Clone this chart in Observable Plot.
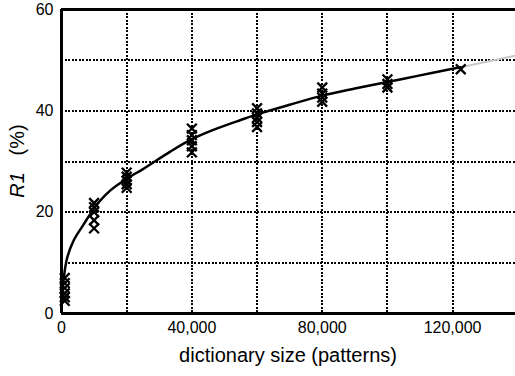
<!DOCTYPE html>
<html>
<head>
<meta charset="utf-8">
<script src="https://cdn.jsdelivr.net/npm/d3@7"></script>
<script src="https://cdn.jsdelivr.net/npm/@observablehq/plot@0.6"></script>
<style>
  html, body { margin: 0; padding: 0; background: #fff; }
  #chart svg { display: block; }
</style>
</head>
<body>
<div id="chart"></div>
<script>
// Measured runs: dictionary size (patterns) and R1 (%)
const sizes0 = [1000, 1000, 1000, 1000, 1000, 1000];
const r1_0 = [2.5, 3.2, 4.0, 5.0, 6.0, 7.0];
const sizes10k = [10000, 10000, 10000, 10000, 10000];
const r1_10k = [21.8, 21.0, 20.0, 18.4, 16.8];
const sizes20k = [20000, 20000, 20000, 20000, 20000];
const r1_20k = [24.8, 25.5, 26.2, 27.0, 27.8];
const sizes40k = [40000, 40000, 40000, 40000, 40000];
const r1_40k = [31.8, 33.0, 34.2, 35.2, 36.5];
const sizes60k = [60000, 60000, 60000, 60000, 60000];
const r1_60k = [36.8, 37.8, 38.6, 39.5, 40.5];
const sizes80k = [80000, 80000, 80000, 80000];
const r1_80k = [41.8, 42.6, 43.4, 44.6];
const sizes100k = [100000, 100000, 100000];
const r1_100k = [44.6, 45.3, 46.2];
const sizes123k = [122500];
const r1_123k = [48.2];

// Fitted curve
const fitX = [200, 700, 1750, 3800, 6400, 9000, 11500, 15000, 20000, 25000, 33500, 40000, 46000, 55000, 60000, 70000, 80000, 90000, 100000, 110000, 120000, 122500];
const fitY = [2.5, 7.0, 11.0, 14.5, 17.2, 19.8, 22.0, 24.3, 26.6, 28.5, 32.0, 34.4, 36.1, 38.2, 39.3, 41.2, 43.0, 44.4, 45.7, 47.0, 48.3, 48.6];
// Extrapolated part (grey)
const extX = [122500, 139300];
const extY = [48.6, 50.9];

const xTicks = [0, 40000, 80000, 120000];
const yTicks = [0, 20, 40, 60];
const xGrid = [20000, 40000, 60000, 80000, 100000, 120000];
const yGrid = [10, 20, 30, 40, 50];

const xs = [].concat(sizes0, sizes10k, sizes20k, sizes40k, sizes60k, sizes80k, sizes100k, sizes123k);
const ys = [].concat(r1_0, r1_10k, r1_20k, r1_40k, r1_60k, r1_80k, r1_100k, r1_123k);
const points = xs.map((x, i) => ({x, y: ys[i]}));
const fit = fitX.map((x, i) => ({x, y: fitY[i]}));
const ext = extX.map((x, i) => ({x, y: extY[i]}));

const fmt = d3.format(",");

const chart = Plot.plot({
  width: 515,
  height: 376,
  marginLeft: 61,
  marginRight: 0,
  marginTop: 9,
  marginBottom: 63,
  style: {fontFamily: "'Liberation Sans', Arial, Helvetica, sans-serif", fontSize: "16px", color: "#000", background: "#fff"},
  x: {domain: [0, 139300]},
  y: {domain: [0, 60]},
  marks: [
    Plot.gridX(xGrid, {stroke: "#000", strokeOpacity: 1, strokeWidth: 2, strokeDasharray: "2,1.5", shapeRendering: "crispEdges"}),
    Plot.gridY(yGrid, {stroke: "#000", strokeOpacity: 1, strokeWidth: 2, strokeDasharray: "2,1.5", shapeRendering: "crispEdges"}),
    Plot.axisX(xTicks, {tickSize: 0, tickPadding: 8, tickFormat: fmt, label: null, fontSize: 16}),
    Plot.axisY(yTicks, {tickSize: 0, tickPadding: 8, label: null, fontSize: 16}),
    Plot.line(ext, {x: "x", y: "y", stroke: "#c8c8c8", strokeWidth: 2}),
    Plot.line(fit, {x: "x", y: "y", stroke: "#000", strokeWidth: 2.5, curve: "catmull-rom"}),
    Plot.dot(points, {x: "x", y: "y", symbol: "times", r: 4.5, stroke: "#000", strokeWidth: 2.3}),
    Plot.ruleX([0], {stroke: "#000", strokeWidth: 3}),
    Plot.ruleY([0, 60], {stroke: "#000", strokeWidth: 3})
  ]
});

document.getElementById("chart").appendChild(chart);

const svg = d3.select(chart);
svg.append("text")
  .attr("x", 288)
  .attr("y", 362)
  .attr("text-anchor", "middle")
  .attr("font-size", 20)
  .attr("fill", "#000")
  .text("dictionary size (patterns)");

const yl = svg.append("text")
  .attr("transform", "translate(24,161) rotate(-90)")
  .attr("text-anchor", "middle")
  .attr("font-size", 20)
  .attr("fill", "#000");
yl.append("tspan").attr("font-style", "italic").text("R1");
yl.append("tspan").attr("xml:space", "preserve").text("\u00a0\u00a0\u00a0(%)");
</script>
</body>
</html>
